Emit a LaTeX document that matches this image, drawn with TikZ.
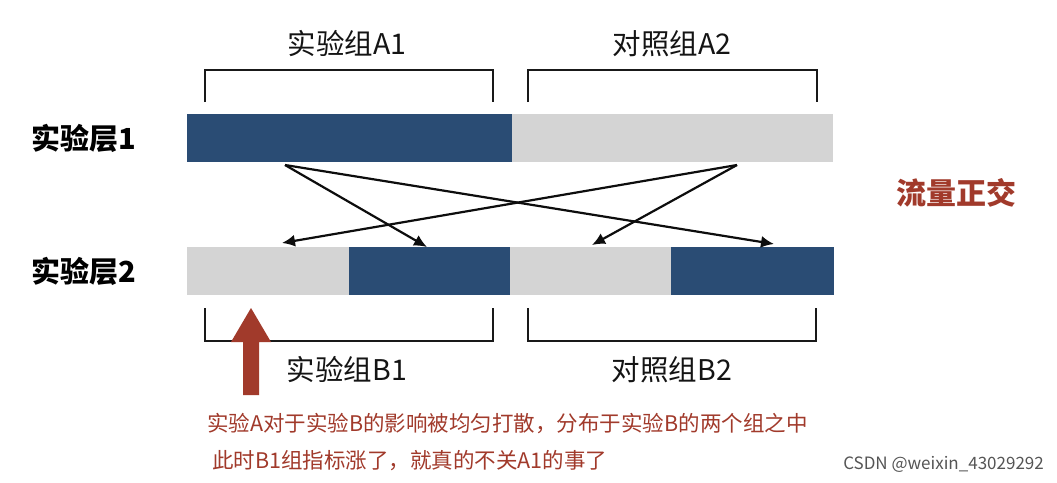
\documentclass[tikz,border=0pt]{standalone}
\usepackage{fontspec}
\setmainfont{Noto Sans CJK SC}
\usetikzlibrary{arrows.meta}
\definecolor{barblue}{HTML}{2A4C74}
\definecolor{bargray}{HTML}{D4D4D4}
\definecolor{darkred}{HTML}{A13A2B}
\definecolor{wm}{HTML}{555555}
\tikzset{
  seg/.style={draw=none, anchor=north west, minimum height=48pt, inner sep=0pt, outer sep=0pt},
  bracket/.style={draw=black!90, line width=2.8pt, line cap=butt},
  arr/.style={draw=black!95, line width=2.2pt, -{Latex[length=13pt,width=12pt]}},
  lbl/.style={font=\fontsize{28.5pt}{32pt}\selectfont, text=black!92, inner sep=0pt},
  layer/.style={font=\fontsize{29pt}{34pt}\selectfont\bfseries, text=black, inner sep=0pt},
  note/.style={font=\fontsize{21.5pt}{25pt}\selectfont, text=darkred, inner sep=0pt, anchor=west},
}
\begin{document}
\begin{tikzpicture}[x=1pt,y=-1pt]
\useasboundingbox[fill=white] (0,0) rectangle (1057,482);
% layer 1
\node[seg, fill=barblue, minimum width=325pt] (l1a) at (187,114) {};
\node[seg, fill=bargray, minimum width=321pt] (l1b) at (512,114) {};
% layer 2
\node[seg, fill=bargray, minimum width=162pt] (l2a) at (187,247) {};
\node[seg, fill=barblue, minimum width=161pt] (l2b) at (349,247) {};
\node[seg, fill=bargray, minimum width=161pt] (l2c) at (510,247) {};
\node[seg, fill=barblue, minimum width=163pt] (l2d) at (671,247) {};
% layer labels
\node[layer] (lay1) at (84,138) {实验层1};
\node[layer] (lay2) at (84,271) {实验层2};
% top brackets and labels
\draw[bracket] (205,102) |- (493,70) -- (493,102);
\draw[bracket] (528,102) |- (817,70) -- (817,102);
\node[lbl] (a1) at (347,44) {实验组A1};
\node[lbl] (a2) at (672,44) {对照组A2};
% bottom brackets and labels
\draw[bracket] (205,308) |- (493,341) -- (493,308);
\draw[bracket] (528,308) |- (816,341) -- (816,308);
\node[lbl] (b1) at (347,370) {实验组B1};
\node[lbl] (b2) at (672,370) {对照组B2};
% crossing arrows
\coordinate (s1) at (285,165);
\coordinate (s2) at (737,165);
\coordinate (e1) at (282,243);
\coordinate (e2) at (427,247);
\coordinate (e3) at (592,245);
\coordinate (e4) at (774,244);
\draw[arr] (s1) -- (e2);
\draw[arr] (s1) -- (e4);
\draw[arr] (s2) -- (e1);
\draw[arr] (s2) -- (e3);
% red arrow
\fill[darkred] (243,395) -- (243,342) -- (231,342) -- (251,308) -- (271,342) -- (259,342) -- (259,395) -- cycle;
% right label
\node[font=\fontsize{30pt}{34pt}\selectfont\bfseries, text=darkred, inner sep=0pt] (flow) at (956,193) {流量正交};
% notes
\node[note] (n1) at (207,424) {实验A对于实验B的影响被均匀打散，分布于实验B的两个组之中};
\node[note] (n2) at (212,461) {此时B1组指标涨了，就真的不关A1的事了};
% watermark
\node[font=\fontsize{17pt}{20pt}\selectfont, text=wm, inner sep=0pt, anchor=east] (csdn) at (1044,464) {CSDN @weixin\_43029292};
\end{tikzpicture}
\end{document}
